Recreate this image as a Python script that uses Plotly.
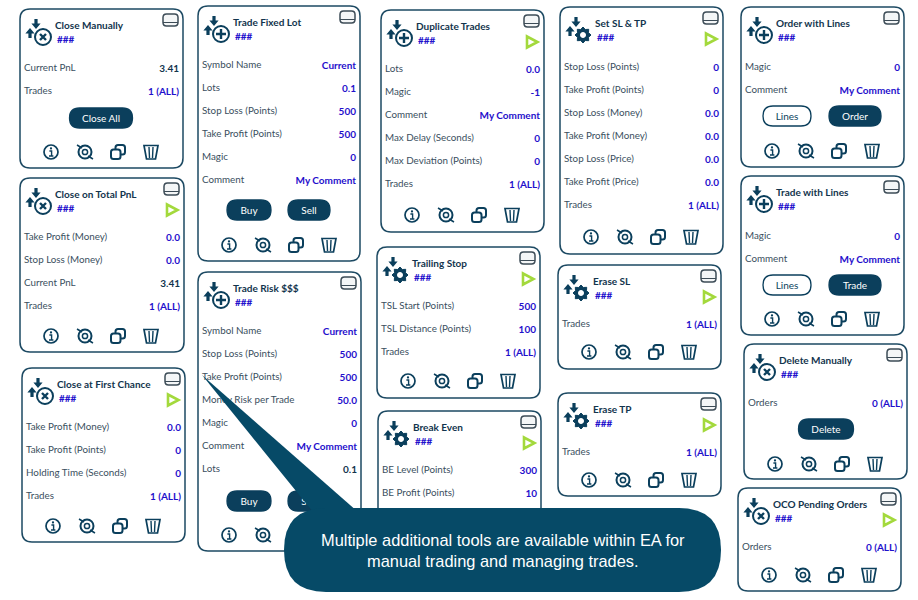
import math
import plotly.graph_objects as go

# panel content
titles = ["Close Manually", "Close on Total PnL", "Close at First Chance", "Trade Fixed Lot", "Trade Risk $$$",
          "Duplicate Trades", "Trailing Stop", "Break Even", "Set SL & TP", "Erase SL", "Erase TP",
          "Order with Lines", "Trade with Lines", "Delete Manually", "OCO Pending Orders"]
magic_text = "###"
row_labels = [
    ["Current PnL", "Trades"],
    ["Take Profit (Money)", "Stop Loss (Money)", "Current PnL", "Trades"],
    ["Take Profit (Money)", "Take Profit (Points)", "Holding Time (Seconds)", "Trades"],
    ["Symbol Name", "Lots", "Stop Loss (Points)", "Take Profit (Points)", "Magic", "Comment"],
    ["Symbol Name", "Stop Loss (Points)", "Take Profit (Points)", "Money Risk per Trade", "Magic", "Comment", "Lots"],
    ["Lots", "Magic", "Comment", "Max Delay (Seconds)", "Max Deviation (Points)", "Trades"],
    ["TSL Start (Points)", "TSL Distance (Points)", "Trades"],
    ["BE Level (Points)", "BE Profit (Points)", "Trades"],
    ["Stop Loss (Points)", "Take Profit (Points)", "Stop Loss (Money)", "Take Profit (Money)",
     "Stop Loss (Price)", "Take Profit (Price)", "Trades"],
    ["Trades"],
    ["Trades"],
    ["Magic", "Comment"],
    ["Magic", "Comment"],
    ["Orders"],
    ["Orders"],
]
row_values = [
    ["3.41", "1 (ALL)"],
    ["0.0", "0.0", "3.41", "1 (ALL)"],
    ["0.0", "0", "0", "1 (ALL)"],
    ["Current", "0.1", "500", "500", "0", "My Comment"],
    ["Current", "500", "500", "50.0", "0", "My Comment", "0.1"],
    ["0.0", "-1", "My Comment", "0", "0", "1 (ALL)"],
    ["500", "100", "1 (ALL)"],
    ["300", "10", "1 (ALL)"],
    ["0", "0", "0.0", "0.0", "0.0", "0.0", "1 (ALL)"],
    ["1 (ALL)"],
    ["1 (ALL)"],
    ["0", "My Comment"],
    ["0", "My Comment"],
    ["0 (ALL)"],
    ["0 (ALL)"],
]
readonly_cells = [(0, 0), (1, 2), (4, 6)]
icon_kinds = ["x", "x", "x", "plus", "plus", "plus", "gear", "gear", "gear", "gear", "gear", "plus", "plus", "x", "x"]
has_play = [False, True, True, False, False, True, True, True, True, True, True, False, False, False, True]
button_labels = [["Close All"], [], [], ["Buy", "Sell"], ["Buy", "Sell"], [], [], [], [], [], [],
                 ["Lines", "Order"], ["Lines", "Trade"], ["Delete"], []]
callout_lines = ["Multiple additional tools are available within EA for", "manual trading and managing trades."]

# panel geometry in page pixels: left, top, right, bottom, first row, icon row
panel_boxes = [
    (20, 9, 183, 168, 68, 152), (20, 178, 184, 352, 237, 336), (22, 368, 185, 542, 427, 526),
    (198, 6, 360, 261, 65, 245), (198, 272, 361, 551, 331, 535), (381, 10, 544, 232, 69, 215),
    (377, 247, 540, 398, 306, 381), (378, 411, 541, 562, 470, 545), (560, 7, 723, 254, 67, 237),
    (558, 265, 721, 369, 324, 352), (558, 393, 721, 496, 452, 480), (741, 7, 904, 167, 67, 151),
    (741, 176, 904, 335, 236, 319), (744, 344, 907, 479, 403, 464), (738, 488, 901, 591, 547, 575),
]
# button centre x, centre y, width for the panels that have buttons
button_places = {
    0: [(101, 118, 63)], 3: [(249, 210, 44), (309, 210, 42)], 4: [(249, 501, 44), (309, 501, 42)],
    11: [(787, 116, 48), (855, 116, 52)], 12: [(787, 285, 48), (855, 285, 52)], 13: [(826, 429, 55)],
}

NAVY = "#0b3f5c"
EDGE = "#1d4a63"
TITLE = "#12344d"
LABEL = "#3a4f60"
BLUE = "#1f10cc"
GREEN = "#a3d93c"
FONT = "Lato"

shapes = []


def add_path(path, fill=None, line=None, width=0, layer="below"):
    shapes.append(dict(type="path", path=path, xref="x", yref="y", layer=layer,
                       fillcolor=fill if fill else "rgba(0,0,0,0)",
                       line=dict(color=line if line else "rgba(0,0,0,0)", width=width)))


def round_rect(x0, y0, x1, y1, r):
    return (f"M{x0 + r},{y0} L{x1 - r},{y0} Q{x1},{y0} {x1},{y0 + r} L{x1},{y1 - r} Q{x1},{y1} {x1 - r},{y1} "
            f"L{x0 + r},{y1} Q{x0},{y1} {x0},{y1 - r} L{x0},{y0 + r} Q{x0},{y0} {x0 + r},{y0} Z")


def circle(cx, cy, r):
    k = 0.5523 * r
    return (f"M{cx - r},{cy} C{cx - r},{cy - k} {cx - k},{cy - r} {cx},{cy - r} "
            f"C{cx + k},{cy - r} {cx + r},{cy - k} {cx + r},{cy} "
            f"C{cx + r},{cy + k} {cx + k},{cy + r} {cx},{cy + r} "
            f"C{cx - k},{cy + r} {cx - r},{cy + k} {cx - r},{cy} Z")


def arrow(cx, top, down):
    s = 1 if down else -1
    y = top if down else top + 10
    return (f"M{cx - 1.6},{y} L{cx + 1.6},{y} L{cx + 1.6},{y + s * 4.5} L{cx + 4.6},{y + s * 4.5} L{cx},{y + s * 10} "
            f"L{cx - 4.6},{y + s * 4.5} L{cx - 1.6},{y + s * 4.5} Z")


def gear(cx, cy):
    pts = []
    for i in range(16):
        a = math.pi * i / 8
        r = 8 if i % 2 == 0 else 6
        pts.append(f"{cx + r * math.cos(a):.1f},{cy + r * math.sin(a):.1f}")
    add_path("M" + " L".join(pts) + " Z", fill=NAVY, line=NAVY, width=1)
    add_path(circle(cx, cy, 3), fill="white")


def header_icon(x0, y0, kind):
    add_path(arrow(x0 + 16, y0 + 10, True), fill=NAVY)
    add_path(arrow(x0 + 10, y0 + 19, False), fill=NAVY)
    cx, cy = x0 + 23, y0 + 28
    if kind == "gear":
        gear(cx, cy)
        return
    add_path(circle(cx, cy, 8), fill="white", line=NAVY, width=2)
    if kind == "x":
        add_path(f"M{cx - 3},{cy - 3} L{cx + 3},{cy + 3} M{cx + 3},{cy - 3} L{cx - 3},{cy + 3}", line=NAVY, width=2.4)
    else:
        add_path(f"M{cx - 5},{cy} L{cx + 5},{cy} M{cx},{cy - 5} L{cx},{cy + 5}", line=NAVY, width=2.4)


def action_icons(x0, y):
    cx = x0 + 31
    add_path(circle(cx, y, 7), line=NAVY, width=1.7)
    add_path(circle(cx, y - 3.6, 1.1), fill=NAVY)
    add_path(f"M{cx - 1.6},{y - 1} L{cx + 0.6},{y - 1} L{cx + 0.6},{y + 4} M{cx - 2},{y + 4} L{cx + 2.4},{y + 4}",
             line=NAVY, width=1.4)
    cx = x0 + 65
    add_path(circle(cx, y, 6.5), line=NAVY, width=2)
    add_path(circle(cx, y, 2.6), line=NAVY, width=1.5)
    add_path(f"M{cx - 8},{y - 7} L{cx - 3},{y - 4} M{cx + 8},{y + 7} L{cx + 3},{y + 4}", line=NAVY, width=1.5)
    cx = x0 + 98
    add_path(round_rect(cx - 2.5, y - 7, cx + 7, y + 2.5, 2.5), line=NAVY, width=2)
    add_path(round_rect(cx - 7, y - 2.5, cx + 2.5, y + 7, 2.5), fill="white", line=NAVY, width=2)
    cx = x0 + 131
    add_path(f"M{cx - 7},{y - 6.5} L{cx + 7},{y - 6.5} L{cx + 4.5},{y + 7} L{cx - 4.5},{y + 7} Z", line=NAVY, width=1.7)
    add_path(f"M{cx - 2},{y - 5} L{cx - 1.5},{y + 6} M{cx + 2},{y - 5} L{cx + 1.5},{y + 6}", line=NAVY, width=1.4)


text_groups = {}


def put_text(group, x, y, text):
    text_groups.setdefault(group, ([], [], []))
    text_groups[group][0].append(x)
    text_groups[group][1].append(y + 1)  # text sits a pixel high when centred
    text_groups[group][2].append(text)


for i, title in enumerate(titles):
    x0, y0, x1, y1, row0, icon_y = panel_boxes[i]
    add_path(round_rect(x0, y0, x1, y1, 10), fill="white", line=EDGE, width=1.5)
    header_icon(x0, y0, icon_kinds[i])
    # minimise box
    add_path(round_rect(x1 - 20, y0 + 5, x1 - 5, y0 + 17, 3.5), fill="#f4f6f7", line="#3d4c57", width=1.5)
    add_path(f"M{x1 - 20},{y0 + 13.5} L{x1 - 5},{y0 + 13.5}", line="#3d4c57", width=1)
    if has_play[i]:
        cx, cy = x1 - 12, y0 + 32
        add_path(f"M{cx - 5},{cy - 5.5} L{cx - 5},{cy + 5.5} L{cx + 5.5},{cy} Z", fill="white", line=GREEN, width=2.6)
    put_text("title", x0 + 35, y0 + 16, title)
    put_text("magic", x0 + 37, y0 + 30, magic_text)
    for j, label in enumerate(row_labels[i]):
        y = row0 + 23 * j
        put_text("label", x0 + 4, y, label)
        put_text("plain" if (i, j) in readonly_cells else "value", x1 - 4, y, row_values[i][j])
    for text, place in zip(button_labels[i], button_places.get(i, [])):
        bx, by, bw = place
        outline = text == "Lines"
        add_path(round_rect(bx - bw / 2, by - 10, bx + bw / 2, by + 10, 10), fill="white" if outline else NAVY,
                 line=NAVY, width=1.3)
        put_text("btn_line" if outline else "btn", bx, by, text)
    action_icons(x0, icon_y)

# callout sits over the panels
add_path("M202,375 L313,512 L358,512 Z", fill="#064a67", layer="above")
add_path(round_rect(284, 508, 721, 592, 42), fill="#064a67", layer="above")

styles = {
    "title": dict(pos="middle right", color=TITLE, size=10, weight=700),
    "magic": dict(pos="middle right", color=BLUE, size=10, weight=700),
    "label": dict(pos="middle right", color=LABEL, size=9.8, weight=400),
    "value": dict(pos="middle left", color=BLUE, size=10, weight=700),
    "plain": dict(pos="middle left", color=TITLE, size=10, weight=700),
    "btn": dict(pos="middle center", color="white", size=10, weight=400),
    "btn_line": dict(pos="middle center", color=NAVY, size=10, weight=400),
}

fig = go.Figure()
for name, (xs, ys, texts) in text_groups.items():
    st = styles[name]
    fig.add_trace(go.Scatter(x=xs, y=ys, text=texts, mode="text", textposition=st["pos"], hoverinfo="skip",
                             textfont=dict(color=st["color"], size=st["size"], family=FONT, weight=st["weight"]),
                             showlegend=False))

annotations = [dict(x=503, y=540 + 21 * k, xref="x", yref="y", text=line, showarrow=False,
                    font=dict(family="Liberation Sans", size=16.4, color="white"), xanchor="center", yanchor="middle")
               for k, line in enumerate(callout_lines)]

fig.update_layout(width=918, height=600, margin=dict(l=0, r=0, t=0, b=0), paper_bgcolor="white", plot_bgcolor="white",
                  shapes=shapes, annotations=annotations, showlegend=False,
                  xaxis=dict(range=[0, 918], visible=False, fixedrange=True),
                  yaxis=dict(range=[600, 0], visible=False, fixedrange=True))
# the browser's default body margin would push the figure off by 8px
fig.write_html("out.html", config=dict(displayModeBar=False),
               post_script="document.body.style.margin='0';document.body.style.overflow='hidden';")
